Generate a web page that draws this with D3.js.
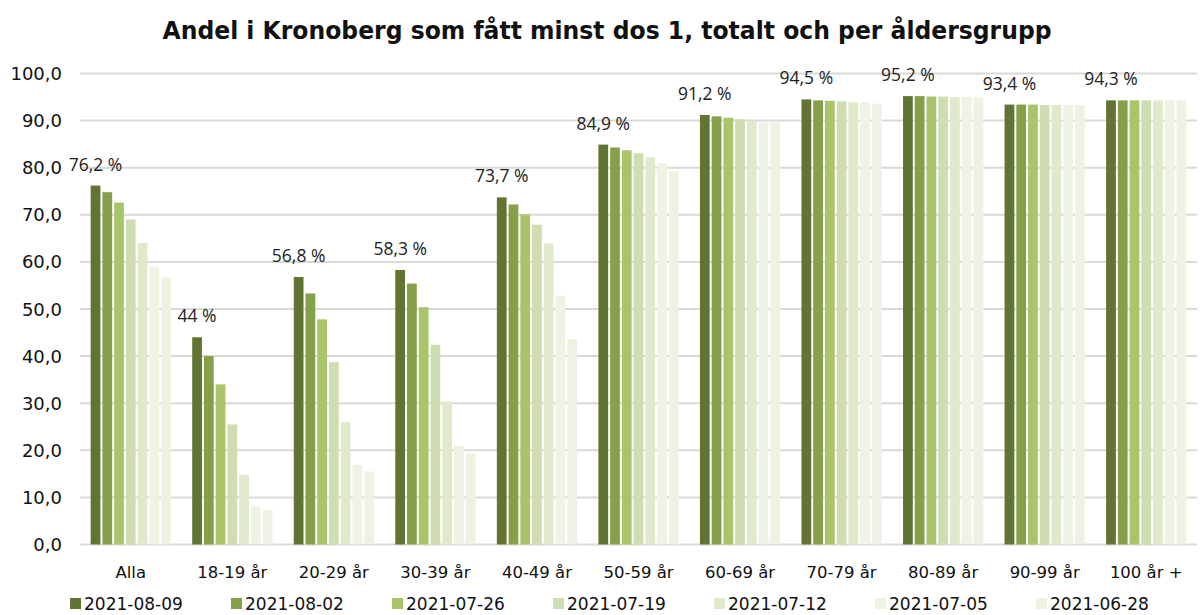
<!DOCTYPE html>
<html><head><meta charset="utf-8">
<script src="https://cdn.jsdelivr.net/npm/d3@7"></script>
<style>body{margin:0;background:#fff}svg{display:block}</style>
</head><body>
<svg id="c" width="1202" height="615"></svg>
<script>
const categories = ["Alla","18-19 år","20-29 år","30-39 år","40-49 år","50-59 år","60-69 år","70-79 år","80-89 år","90-99 år","100 år +"];
const seriesNames = ["2021-08-09","2021-08-02","2021-07-26","2021-07-19","2021-07-12","2021-07-05","2021-06-28"];
const s0809 = [76.2,44.0,56.8,58.3,73.7,84.9,91.2,94.5,95.2,93.4,94.3];
const s0802 = [74.8,40.0,53.3,55.4,72.2,84.3,90.9,94.3,95.2,93.4,94.3];
const s0726 = [72.6,34.0,47.8,50.4,70.1,83.7,90.6,94.2,95.1,93.4,94.3];
const s0719 = [69.0,25.5,38.7,42.4,67.9,83.1,90.3,94.1,95.1,93.3,94.3];
const s0712 = [64.0,14.8,26.0,30.4,63.9,82.2,89.9,93.9,95.0,93.3,94.3];
const s0705 = [59.0,8.1,16.9,20.9,52.8,80.9,89.6,93.9,95.0,93.3,94.3];
const s0628 = [56.7,7.3,15.5,19.4,43.6,79.2,89.6,93.6,94.9,93.3,94.3];
const yTicks = [0,10,20,30,40,50,60,70,80,90,100];
const labels = ["76,2 %","44 %","56,8 %","58,3 %","73,7 %","84,9 %","91,2 %","94,5 %","95,2 %","93,4 %","94,3 %"];
const colors = ["#627434","#86a04a","#a9c46b","#cfdeb0","#e0e9cc","#eef3e4","#eff2e2"];
const series = [s0809,s0802,s0726,s0719,s0712,s0705,s0628];

const svg = d3.select("#c");
const x = d3.scaleBand().domain(categories).range([80,1197]).paddingInner(0.21).paddingOuter(0.105);
const xs = d3.scaleBand().domain(d3.range(7)).range([0,x.bandwidth()]).paddingInner(0.17);
const y = d3.scaleLinear().domain([0,100]).range([544.5,73.5]);

// title
svg.append("text").attr("x",607).attr("y",39).attr("text-anchor","middle")
  .attr("font-family","DejaVu Sans").attr("font-weight","bold").attr("font-size",24)
  .attr("textLength",889).attr("lengthAdjust","spacingAndGlyphs").attr("fill","#111")
  .text("Andel i Kronoberg som fått minst dos 1, totalt och per åldersgrupp");

// gridlines
svg.append("g").selectAll("line").data(yTicks).join("line")
  .attr("x1",80).attr("x2",1197).attr("y1",d=>y(d)).attr("y2",d=>y(d))
  .attr("stroke","#d9d9d9").attr("stroke-width",2);

// y labels
svg.append("g").selectAll("text").data(yTicks).join("text")
  .attr("x",62).attr("y",d=>y(d)+6.5).attr("text-anchor","end")
  .attr("font-family","DejaVu Sans").attr("font-size",18).attr("fill","#111")
  .text(d=>d3.format(".1f")(d).replace(".",","));

// bars
const g = svg.append("g");
series.forEach((s,i)=>{
  g.append("g").selectAll("rect").data(s).join("rect")
    .attr("x",(d,j)=>x(categories[j])+xs(i)).attr("width",xs.bandwidth())
    .attr("y",d=>y(d)).attr("height",d=>y(0)-y(d)).attr("fill",colors[i]);
});

// data labels
svg.append("g").selectAll("text").data(s0809).join("text")
  .attr("x",(d,j)=>x(categories[j])+xs(0)+xs.bandwidth()/2)
  .attr("y",d=>y(d)-15).attr("text-anchor","middle")
  .attr("font-family","Open Sans").attr("font-size",17.5).attr("fill","#222")
  .text((d,j)=>labels[j]);

// x labels
svg.append("g").selectAll("text").data(categories).join("text")
  .attr("x",d=>x(d)+x.bandwidth()/2).attr("y",578).attr("text-anchor","middle")
  .attr("font-family","DejaVu Sans").attr("font-size",16.5).attr("fill","#111")
  .text(d=>d);

// legend
const lg = svg.append("g");
seriesNames.forEach((n,i)=>{
  const lx = 70 + i*161;
  lg.append("rect").attr("x",lx).attr("y",598).attr("width",11).attr("height",11).attr("fill",colors[i]);
  lg.append("text").attr("x",lx+14).attr("y",610).attr("font-family","DejaVu Sans").attr("font-size",17).attr("fill","#111").text(n);
});
</script>
</body></html>
